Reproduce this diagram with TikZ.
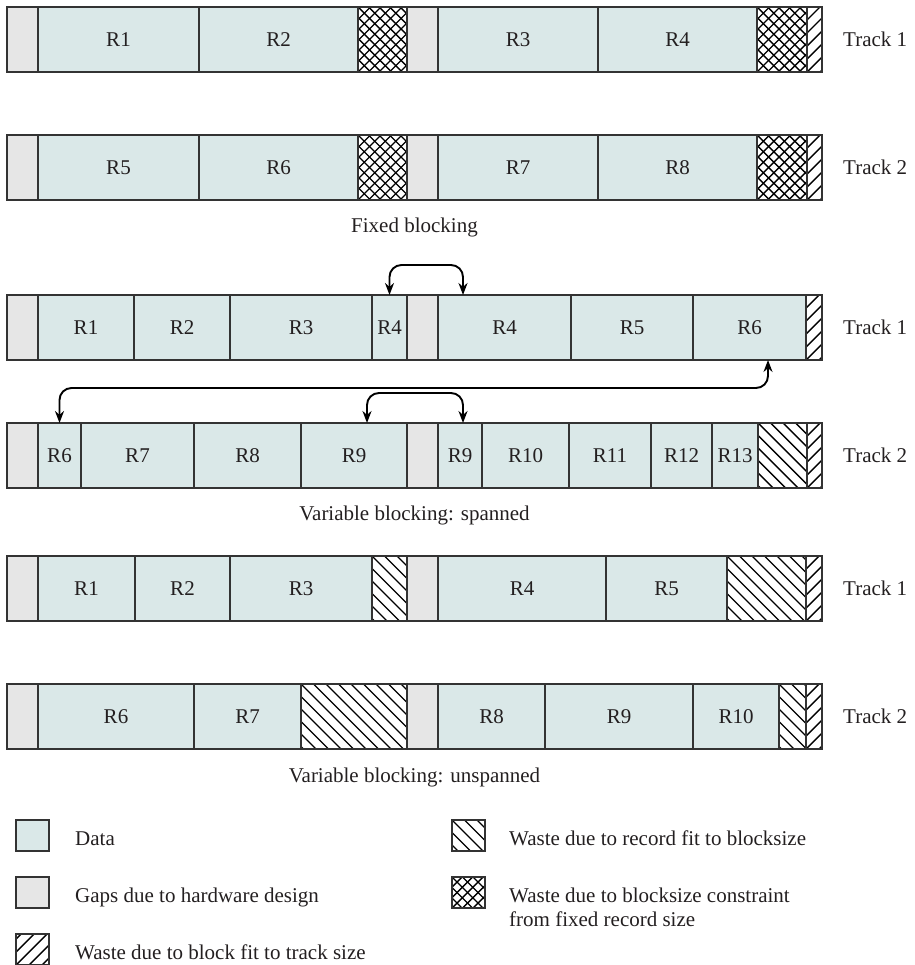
\documentclass[tikz,border=0pt]{standalone}
\usepackage{fontspec}
\setmainfont{Liberation Serif}
\usetikzlibrary{arrows.meta,calc}
\definecolor{datafill}{HTML}{DAE8E8}
\definecolor{gapfill}{HTML}{E6E6E6}
\definecolor{edge}{HTML}{333333}
\definecolor{ink}{HTML}{231F20}
\newcommand\mycell[6]{\node[cellbox,#5,minimum width={(#3-#2)*1pt}] (#1) at (#2,#4) {#6};}
\tikzset{
  cellbox/.style={draw=edge,line width=1.2pt,inner sep=0pt,outer sep=0pt,anchor=north west,minimum height=65pt},
  cdata/.style={fill=datafill},
  cgap/.style={fill=gapfill},
  hatchln/.style={draw=black,line width=1.4pt,fill=none},
  cslash/.style={fill=white,path picture={
      \foreach \k in {-8,...,10}{
        \draw[hatchln] ([xshift={\k*13pt}]path picture bounding box.south west) -- ++(140pt,140pt);}}},
  cbslash/.style={fill=white,path picture={
      \foreach \k in {-8,...,12}{
        \draw[hatchln] ([xshift={\k*12.5pt}]path picture bounding box.north west) -- ++(140pt,-140pt);}}},
  ccross/.style={fill=white,path picture={
      \foreach \k in {-10,...,16}{
        \draw[hatchln] ([xshift={\k*10.5pt}]path picture bounding box.south west) -- ++(140pt,140pt);
        \draw[hatchln] ([xshift={\k*10.5pt}]path picture bounding box.north west) -- ++(140pt,-140pt);}}},
  conn/.style={draw=black,line width=1.9pt,{Stealth[length=12pt,width=9pt]}-{Stealth[length=12pt,width=9pt]},rounded corners=12pt},
  tracklbl/.style={anchor=west,inner sep=0pt},
  caption/.style={anchor=base,inner sep=0pt},
  legtext/.style={anchor=base west,inner sep=0pt},
  legbox/.style={cellbox,minimum width=33pt,minimum height=31pt}
}
\begin{document}
\begin{tikzpicture}[x=1pt,y=-1pt,font=\fontsize{21}{24}\selectfont,text=ink]
\useasboundingbox (0,0) rectangle (914,965);

% ---------- Fixed blocking, track 1
\mycell{f1g1}{7}{38}{7}{cgap}{}
\mycell{f1r1}{38}{199}{7}{cdata}{R1}
\mycell{f1r2}{199}{358}{7}{cdata}{R2}
\mycell{f1x1}{358}{407}{7}{ccross}{}
\mycell{f1g2}{407}{438}{7}{cgap}{}
\mycell{f1r3}{438}{598}{7}{cdata}{R3}
\mycell{f1r4}{598}{757}{7}{cdata}{R4}
\mycell{f1x2}{757}{807}{7}{ccross}{}
\mycell{f1s}{807}{822}{7}{cslash}{}
\node[tracklbl] (f1t) at (843,39.5) {Track 1};

% ---------- Fixed blocking, track 2
\mycell{f2g1}{7}{38}{135}{cgap}{}
\mycell{f2r5}{38}{199}{135}{cdata}{R5}
\mycell{f2r6}{199}{358}{135}{cdata}{R6}
\mycell{f2x1}{358}{407}{135}{ccross}{}
\mycell{f2g2}{407}{438}{135}{cgap}{}
\mycell{f2r7}{438}{598}{135}{cdata}{R7}
\mycell{f2r8}{598}{757}{135}{cdata}{R8}
\mycell{f2x2}{757}{807}{135}{ccross}{}
\mycell{f2s}{807}{822}{135}{cslash}{}
\node[tracklbl] (f2t) at (843,167.5) {Track 2};
\node[caption] (fcap) at (414.5,233) {Fixed blocking};

% ---------- Variable spanned, track 1
\mycell{s1g1}{7}{38}{295}{cgap}{}
\mycell{s1r1}{38}{134}{295}{cdata}{R1}
\mycell{s1r2}{134}{230}{295}{cdata}{R2}
\mycell{s1r3}{230}{372}{295}{cdata}{R3}
\mycell{s1r4a}{372}{407}{295}{cdata}{R4}
\mycell{s1g2}{407}{438}{295}{cgap}{}
\mycell{s1r4b}{438}{571}{295}{cdata}{R4}
\mycell{s1r5}{571}{693}{295}{cdata}{R5}
\mycell{s1r6}{693}{806}{295}{cdata}{R6}
\mycell{s1s}{806}{822}{295}{cslash}{}
\node[tracklbl] (s1t) at (843,327.5) {Track 1};

% ---------- Variable spanned, track 2
\mycell{s2g1}{7}{38}{423}{cgap}{}
\mycell{s2r6a}{38}{81}{423}{cdata}{R6}
\mycell{s2r7}{81}{194}{423}{cdata}{R7}
\mycell{s2r8}{194}{301}{423}{cdata}{R8}
\mycell{s2r9a}{301}{407}{423}{cdata}{R9}
\mycell{s2g2}{407}{438}{423}{cgap}{}
\mycell{s2r9b}{438}{482}{423}{cdata}{R9}
\mycell{s2r10}{482}{569}{423}{cdata}{R10}
\mycell{s2r11}{569}{651}{423}{cdata}{R11}
\mycell{s2r12}{651}{712}{423}{cdata}{R12}
\mycell{s2r13}{712}{758}{423}{cdata}{R13}
\mycell{s2b}{758}{807}{423}{cbslash}{}
\mycell{s2s}{807}{822}{423}{cslash}{}
\node[tracklbl] (s2t) at (843,455.5) {Track 2};
\node[caption] (scap) at (414.5,520) {Variable blocking: spanned};

% spanned connectors
\draw[conn] (s1r4a.north) -- ++(0,-30) -| ([xshift=25pt]s1r4b.north west);
\draw[conn] ([xshift=75pt]s1r6.south west) -- ++(0,28) -| (s2r6a.north);
\draw[conn] ([xshift=66pt]s2r9a.north west) -- ++(0,-30) -| ([xshift=25pt]s2r9b.north west);

% ---------- Variable unspanned, track 1
\mycell{u1g1}{7}{38}{556}{cgap}{}
\mycell{u1r1}{38}{135}{556}{cdata}{R1}
\mycell{u1r2}{135}{230}{556}{cdata}{R2}
\mycell{u1r3}{230}{372}{556}{cdata}{R3}
\mycell{u1b1}{372}{407}{556}{cbslash}{}
\mycell{u1g2}{407}{438}{556}{cgap}{}
\mycell{u1r4}{438}{606}{556}{cdata}{R4}
\mycell{u1r5}{606}{727}{556}{cdata}{R5}
\mycell{u1b2}{727}{806}{556}{cbslash}{}
\mycell{u1s}{806}{822}{556}{cslash}{}
\node[tracklbl] (u1t) at (843,588.5) {Track 1};

% ---------- Variable unspanned, track 2
\mycell{u2g1}{7}{38}{684}{cgap}{}
\mycell{u2r6}{38}{194}{684}{cdata}{R6}
\mycell{u2r7}{194}{301}{684}{cdata}{R7}
\mycell{u2b1}{301}{407}{684}{cbslash}{}
\mycell{u2g2}{407}{438}{684}{cgap}{}
\mycell{u2r8}{438}{545}{684}{cdata}{R8}
\mycell{u2r9}{545}{693}{684}{cdata}{R9}
\mycell{u2r10}{693}{779}{684}{cdata}{R10}
\mycell{u2b2}{779}{806}{684}{cbslash}{}
\mycell{u2s}{806}{822}{684}{cslash}{}
\node[tracklbl] (u2t) at (843,716.5) {Track 2};
\node[caption] (ucap) at (414.5,782) {Variable blocking: unspanned};

% ---------- Legend
\node[legbox,cdata] (lg1) at (16,820) {};
\node[legtext] (lt1) at (75,845) {Data};
\node[legbox,cgap] (lg2) at (16,877) {};
\node[legtext] (lt2) at (75,902) {Gaps due to hardware design};
\node[legbox,cslash] (lg3) at (16,934) {};
\node[legtext] (lt3) at (75,959) {Waste due to block fit to track size};
\node[legbox,cbslash] (lg4) at (452,820) {};
\node[legtext] (lt4) at (509,845) {Waste due to record fit to blocksize};
\node[legbox,ccross] (lg5) at (452,877) {};
\node[legtext] (lt5) at (509,902) {\begin{tabular}[t]{@{}l@{}}Waste due to blocksize constraint\\from fixed record size\end{tabular}};
\end{tikzpicture}
\end{document}
